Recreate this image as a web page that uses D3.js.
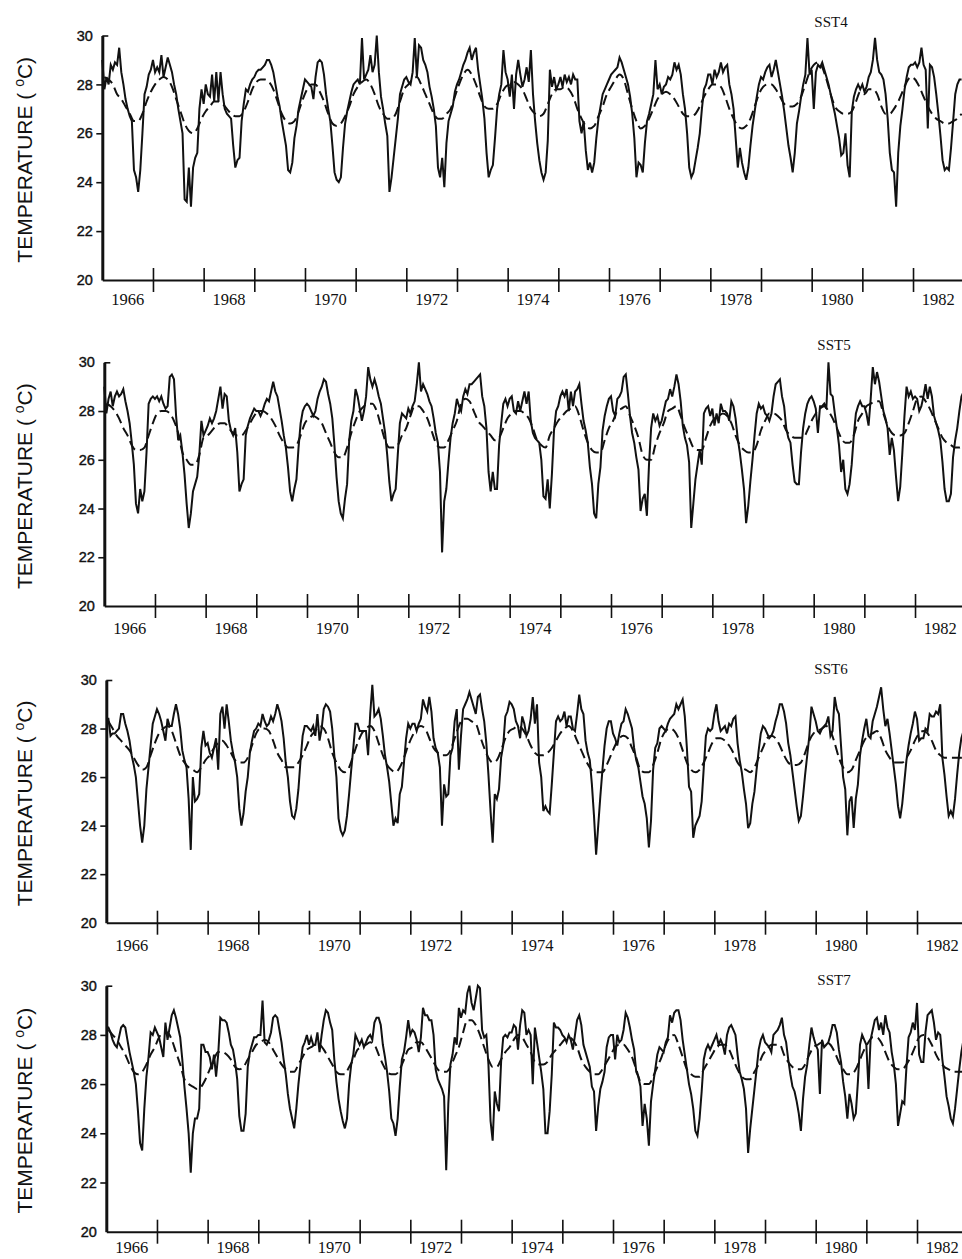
<!DOCTYPE html>
<html>
<head>
<meta charset="utf-8">
<script src="https://cdn.jsdelivr.net/npm/d3@7"></script>
<style>
body { margin: 0; background: #fff; }
svg { display: block; }
</style>
</head>
<body>
<script>
var years = [1966, 1967, 1968, 1969, 1970, 1971, 1972, 1973, 1974, 1975, 1976, 1977, 1978, 1979, 1980, 1981, 1982];
var yearLabels = [1966, 1968, 1970, 1972, 1974, 1976, 1978, 1980, 1982];
var yTicks = [20, 22, 24, 26, 28, 30];

// semi-monthly observed SST, one row per year
var sst4 = [
  [29.0,27.8,28.3,28.0,28.8,28.6,28.9,28.8,29.5,28.5,28.0,27.4,27.0,26.7,26.5,24.5,24.2,23.6,24.5,26.0,27.6,27.9,28.4,28.6],
  [29.0,28.5,28.7,28.5,29.2,28.3,28.7,29.1,28.8,28.5,28.0,27.6,27.0,26.5,26.0,23.3,23.2,24.6,23.0,24.6,25.0,25.2,27.0,27.8],
  [27.2,28.0,27.6,27.5,28.4,27.3,28.5,27.3,28.5,27.6,27.0,26.8,26.7,26.6,25.5,24.6,24.9,25.0,26.5,27.2,27.8,27.7,28.0,28.2],
  [28.3,28.5,28.6,28.6,28.7,28.8,29.0,29.0,28.8,28.5,28.0,27.5,27.1,26.5,26.0,25.5,24.5,24.4,24.8,25.8,26.3,27.0,27.4,27.8],
  [28.2,28.1,28.0,27.9,27.4,28.3,28.9,29.0,28.9,28.4,27.6,27.0,26.5,25.5,24.4,24.1,24.0,24.2,25.4,26.4,26.9,27.3,27.7,28.0],
  [28.1,28.2,28.0,29.9,28.2,28.4,28.6,29.2,28.5,28.8,30.0,28.5,27.5,27.0,26.4,25.9,23.6,24.2,25.0,25.8,26.6,27.6,27.9,28.2],
  [28.3,28.1,28.0,28.5,29.9,28.3,29.6,29.5,29.0,28.8,28.5,27.9,27.5,27.0,26.3,24.6,24.2,25.0,23.8,25.6,26.5,26.8,27.1,27.7],
  [28.0,28.2,28.5,28.8,29.0,29.3,29.5,29.0,29.3,29.5,28.6,28.0,27.4,26.6,25.2,24.2,24.5,24.7,25.8,27.0,27.6,28.0,29.4,28.5],
  [28.2,27.5,28.4,27.0,28.4,29.0,28.4,27.9,28.2,28.7,28.1,29.4,27.6,26.5,25.6,24.9,24.4,24.1,24.4,25.7,28.6,27.9,28.3,27.8],
  [28.0,28.3,27.9,28.4,28.1,28.3,28.0,28.4,28.2,28.2,26.5,26.0,26.5,25.3,24.5,24.8,24.4,24.8,25.8,26.6,27.1,27.6,27.8,28.0],
  [28.2,28.4,28.5,28.6,28.7,29.1,28.9,28.6,28.3,28.0,27.5,26.8,25.8,24.2,24.8,24.7,24.4,25.6,26.5,26.8,27.2,27.6,29.0,27.8],
  [28.0,27.6,27.9,28.0,28.3,28.2,28.4,28.9,28.6,28.8,28.4,27.6,27.0,26.0,24.6,24.2,24.4,24.9,25.4,26.0,27.0,27.8,28.0,28.4],
  [28.4,28.0,28.6,28.3,28.5,28.9,28.5,28.7,28.8,28.0,27.6,27.0,25.8,24.6,25.4,24.8,24.4,24.1,24.6,25.5,26.3,26.9,27.5,28.0],
  [28.3,28.2,28.5,28.7,28.8,28.3,28.6,29.0,28.5,28.0,27.5,26.9,26.2,25.5,25.0,24.4,25.2,26.4,26.9,27.5,28.0,28.4,29.9,28.4],
  [28.6,27.0,28.5,28.8,28.7,28.9,28.6,28.3,28.0,27.6,27.2,26.8,26.3,25.8,25.1,25.2,26.0,24.7,24.2,26.9,27.5,27.8,28.0,27.8],
  [28.0,27.7,27.9,28.3,28.5,29.0,29.9,29.0,28.5,28.4,28.2,27.6,26.6,25.2,24.5,24.4,23.0,25.2,26.3,27.0,27.8,28.3,28.7,28.8],
  [28.8,28.9,28.7,28.9,29.5,28.8,28.6,26.2,28.8,28.7,28.3,27.6,26.8,25.9,24.9,24.5,24.6,24.5,25.4,26.5,27.6,28.0,28.2,28.2]
];

var sst5 = [
  [29.0,27.9,28.5,28.8,28.2,28.6,28.8,28.6,28.7,28.9,28.4,28.0,27.5,26.7,25.8,24.2,23.8,24.8,24.3,24.7,26.3,28.3,28.5,28.6],
  [28.5,28.6,28.4,28.6,28.3,28.1,28.2,29.4,29.5,29.3,27.8,26.8,27.0,26.3,25.4,24.2,23.2,23.8,24.7,25.0,25.3,26.2,27.6,27.0],
  [27.2,27.4,27.7,27.5,27.7,28.0,28.5,29.0,28.1,28.7,28.6,27.6,27.2,27.0,27.3,26.3,24.7,25.0,25.2,27.0,27.4,27.7,27.9,28.1],
  [28.0,28.0,27.8,28.0,28.3,28.5,28.4,28.8,29.2,28.8,28.6,28.1,27.6,27.0,26.5,25.7,24.7,24.3,24.8,25.2,26.5,27.5,28.0,28.2],
  [28.3,28.2,28.0,27.8,28.0,28.5,28.8,29.0,29.3,29.2,28.7,28.3,27.7,26.6,25.3,24.3,23.8,23.6,24.4,25.0,26.8,27.6,28.0,28.9],
  [28.6,28.1,27.6,28.0,28.6,29.8,29.3,29.0,29.3,29.0,28.6,28.3,27.7,27.1,26.2,25.1,24.3,24.6,24.8,26.2,27.5,27.9,27.8,27.7],
  [28.1,27.9,28.2,28.4,29.1,30.0,28.8,29.1,28.9,28.7,28.4,28.2,27.7,27.1,26.7,25.5,22.2,24.3,24.8,25.9,26.9,27.5,27.9,28.5],
  [28.2,28.0,28.6,28.9,28.7,29.1,29.1,29.2,29.3,29.4,29.5,28.6,28.2,27.3,25.5,24.7,25.5,24.8,24.8,26.6,27.5,28.3,28.5,28.2],
  [28.5,28.6,28.0,27.9,28.4,28.0,28.4,28.8,28.3,28.8,27.6,27.1,26.9,26.8,26.7,26.0,24.5,24.4,25.2,24.0,25.4,27.2,28.0,28.2],
  [28.6,28.8,28.6,28.9,28.0,28.8,28.2,28.8,28.9,29.1,28.3,27.6,27.2,26.7,25.7,25.0,23.8,23.6,25.0,25.7,27.2,27.8,28.2,28.5],
  [28.6,28.0,27.8,28.5,28.6,28.8,29.4,29.5,28.7,27.8,27.1,26.7,26.1,25.6,23.9,24.4,24.6,23.7,25.8,27.3,27.9,27.6,27.8,27.4],
  [27.6,28.0,28.4,28.5,28.9,28.6,29.0,29.5,29.1,28.4,27.4,26.9,26.6,25.9,23.2,24.2,25.2,25.8,26.4,25.8,27.9,28.1,28.2,27.8],
  [28.1,27.4,27.9,27.5,28.3,28.0,28.0,27.9,27.6,28.4,28.2,27.7,26.9,26.3,25.6,24.8,23.4,24.1,25.1,26.0,27.0,27.9,28.3,28.1],
  [28.2,27.9,27.8,27.6,27.9,28.6,29.1,29.2,29.3,28.6,28.2,27.3,26.9,26.7,25.8,25.1,25.0,25.0,26.3,27.3,27.9,28.3,28.5,28.6],
  [28.4,28.1,27.1,28.2,28.2,28.3,28.1,30.0,28.7,28.6,27.9,27.3,26.6,25.5,26.0,24.8,24.6,25.0,25.8,27.0,27.9,28.2,28.4,28.2],
  [28.2,27.9,27.4,28.5,29.8,29.1,29.6,29.2,28.6,28.0,27.7,27.3,26.2,26.9,26.4,25.3,24.3,24.9,26.3,27.8,29.0,28.6,28.8,28.5],
  [28.6,28.5,28.0,28.2,28.6,29.1,28.5,29.0,28.6,27.8,27.5,27.2,26.8,25.9,24.8,24.3,24.3,24.6,26.1,26.8,27.3,28.0,28.6,28.8]
];

var sst6 = [
  [28.4,28.4,27.7,27.8,27.8,27.9,28.0,28.6,28.6,28.2,27.9,27.5,26.9,26.5,26.0,25.0,24.0,23.3,24.0,25.5,26.4,27.3,28.2,28.5],
  [28.8,28.6,28.3,27.9,27.5,28.4,28.1,28.1,28.6,29.0,28.6,28.0,27.1,26.7,26.4,25.1,23.0,26.0,25.0,25.1,25.3,27.2,27.9,27.3],
  [27.4,27.0,26.8,27.2,27.6,26.3,28.6,28.9,28.0,29.0,28.3,27.5,27.0,26.6,26.0,24.7,24.0,24.5,25.4,26.0,27.0,27.5,27.9,28.0],
  [28.2,28.1,28.6,28.3,28.1,28.2,28.5,28.3,28.6,29.0,28.7,28.3,27.6,26.6,26.0,25.0,24.4,24.3,24.7,25.5,26.7,27.7,28.1,28.1],
  [28.0,27.9,28.1,27.7,28.6,27.5,28.0,28.8,29.0,28.9,28.7,28.0,26.9,26.0,24.3,23.8,23.6,23.8,24.4,25.3,26.3,27.2,28.2,28.2],
  [27.9,27.9,27.9,27.9,26.9,28.6,29.8,28.5,28.6,28.8,28.4,27.7,26.9,26.4,25.8,24.9,24.0,24.3,24.1,25.3,25.6,26.6,27.6,28.2],
  [28.0,28.2,28.2,27.9,28.2,28.4,29.2,28.9,28.7,29.3,28.7,27.6,27.2,27.0,26.4,24.0,25.7,25.2,25.3,26.9,27.2,28.3,28.8,26.3],
  [27.7,28.8,29.0,29.2,29.5,29.2,28.9,28.6,29.3,29.4,28.8,28.3,27.4,26.1,24.6,23.3,25.3,25.1,25.5,26.8,27.3,28.5,28.7,29.1],
  [29.0,28.8,28.3,28.1,27.6,28.5,28.2,27.7,27.9,28.4,29.3,28.2,29.0,26.6,26.0,24.6,24.8,24.6,24.5,25.7,27.0,28.3,28.5,28.3],
  [28.4,28.7,28.1,28.5,28.5,28.0,27.9,28.6,29.4,28.8,28.6,27.5,27.0,26.7,25.7,24.4,22.8,24.0,25.2,26.3,27.3,28.0,28.3,28.3],
  [27.8,27.6,27.3,27.8,28.2,28.3,28.8,28.6,28.3,28.0,27.2,26.7,26.4,25.8,25.2,24.9,24.3,23.1,24.2,26.3,27.2,27.4,28.0,28.1],
  [28.0,27.9,28.2,28.4,28.5,28.6,29.0,28.8,29.0,29.2,28.5,27.2,25.6,25.4,23.5,24.0,24.2,24.4,25.0,26.4,27.7,28.0,27.9,28.0],
  [28.6,29.0,28.3,27.9,28.0,28.1,27.8,28.2,28.1,28.4,28.5,27.4,26.7,26.2,25.5,24.9,23.9,24.1,24.9,25.4,26.3,27.1,27.8,28.1],
  [28.0,27.8,27.6,27.7,27.9,28.3,28.6,29.0,29.0,28.7,28.2,27.4,26.9,26.2,25.5,24.8,24.2,24.4,25.2,26.1,26.9,27.7,28.9,28.6],
  [28.3,27.9,27.8,28.0,28.1,28.2,28.5,27.7,27.9,29.3,28.8,28.6,27.3,26.0,25.5,23.6,25.0,25.2,23.9,25.1,25.7,26.9,27.5,28.0],
  [28.4,27.7,27.6,28.3,28.6,28.9,29.3,29.7,28.8,28.1,28.4,27.8,27.1,26.4,25.7,24.8,24.3,24.9,25.8,26.7,27.3,27.8,28.2,28.7],
  [28.4,27.5,27.6,27.6,28.0,27.9,28.6,28.5,28.5,28.7,28.6,29.0,26.8,26.1,25.2,24.4,24.6,24.4,25.1,26.1,27.0,27.6,27.9,28.1]
];

var sst7 = [
  [28.3,28.3,28.1,27.8,27.6,27.5,27.9,28.3,28.4,28.3,27.8,27.3,26.9,26.5,26.0,24.9,23.6,23.3,25.0,26.3,27.1,28.1,28.0,28.3],
  [28.1,27.9,27.5,27.1,28.5,27.8,28.3,28.8,29.0,28.7,28.3,27.9,27.0,25.9,25.0,24.0,22.4,24.0,24.6,24.6,25.0,27.6,27.6,27.3],
  [27.3,27.1,26.6,27.2,26.3,27.2,28.7,28.6,28.6,28.5,28.1,27.6,27.4,26.9,26.2,24.7,24.1,24.1,24.8,26.7,27.3,27.6,27.9,27.9],
  [28.0,28.0,29.4,27.7,27.6,27.8,28.1,28.7,28.8,28.7,28.2,27.7,27.0,26.4,25.6,25.0,24.6,24.2,25.0,26.0,26.8,27.5,27.7,28.0],
  [27.6,27.9,27.6,27.6,28.1,27.3,28.0,28.6,29.0,28.9,28.5,28.2,27.0,26.1,25.4,24.9,24.5,24.2,24.6,26.0,26.8,27.2,28.0,27.8],
  [27.6,27.8,27.5,27.7,27.9,28.0,27.8,28.5,28.7,28.7,28.4,27.6,27.1,26.5,25.7,24.6,24.4,23.9,24.6,25.9,27.0,27.3,27.9,28.6],
  [28.0,28.2,28.1,27.8,27.3,27.9,29.1,28.8,28.8,28.6,28.6,28.0,26.6,26.2,26.0,25.8,25.5,22.5,25.2,26.8,27.2,27.9,27.6,29.1],
  [28.7,29.0,28.9,29.7,30.0,29.3,29.0,29.5,30.0,29.9,28.2,27.9,28.0,26.8,24.5,23.7,25.7,25.2,24.9,26.9,27.9,28.0,27.9,28.1],
  [28.1,28.4,28.3,27.4,28.4,29.0,28.9,28.0,28.2,28.0,26.0,28.3,27.7,27.1,26.5,25.8,24.0,24.0,24.9,26.4,28.5,28.3,28.3,28.2],
  [28.0,27.9,27.7,28.0,27.8,27.4,28.0,28.6,28.8,28.4,27.6,27.3,27.0,26.7,25.9,25.7,24.1,25.1,25.8,26.1,26.5,27.5,27.9,28.0],
  [28.0,27.0,28.0,27.7,27.8,28.2,28.9,28.7,28.3,27.8,27.4,26.5,26.3,25.9,24.3,25.2,24.6,23.5,25.3,26.0,26.6,27.2,27.5,27.4],
  [27.3,27.7,27.9,28.8,28.5,28.9,29.0,29.0,28.6,27.8,27.2,26.6,26.0,25.6,25.0,24.1,23.9,24.6,25.7,27.0,27.4,27.6,27.4,27.6],
  [27.8,28.0,27.6,27.8,27.6,27.2,28.0,28.3,28.4,28.2,28.0,27.2,26.5,26.2,25.8,25.0,23.2,24.2,25.0,25.8,26.6,27.4,27.8,28.0],
  [27.7,27.6,27.5,27.3,28.0,28.1,28.2,28.4,28.7,28.0,27.7,27.0,26.4,25.9,25.7,25.3,24.8,24.1,25.4,26.3,26.8,27.6,28.3,27.9],
  [27.6,27.4,25.6,27.8,27.5,27.6,27.7,28.0,28.4,28.4,28.1,27.4,26.9,26.1,25.5,24.6,25.6,25.2,24.6,24.8,26.1,27.6,28.0,27.8],
  [27.6,25.8,27.8,28.2,28.6,28.7,28.2,28.5,28.0,28.8,28.3,28.1,27.3,26.8,26.0,24.3,24.8,25.3,25.2,26.7,27.9,28.1,28.5,28.2],
  [29.3,27.2,26.9,26.9,28.1,28.8,28.9,29.0,28.5,27.8,28.1,28.0,27.0,26.3,25.5,25.1,24.6,24.4,25.0,25.8,26.6,27.3,27.8,28.0]
];

// monthly reference curves (dashed)
var sst4Clim = [
  [28.3,28.2,28.0,27.6,27.4,27.1,26.8,26.5,26.5,26.8,27.3,27.7],
  [28.0,28.2,28.3,28.2,27.9,27.4,26.9,26.4,26.1,26.0,26.2,26.6],
  [26.9,27.1,27.3,27.3,27.2,27.0,26.8,26.7,26.7,26.9,27.3,27.8],
  [28.1,28.2,28.2,28.1,27.8,27.3,26.8,26.5,26.4,26.5,26.9,27.4],
  [27.8,28.0,28.0,27.7,27.3,26.8,26.4,26.3,26.4,26.7,27.1,27.6],
  [27.9,28.1,28.2,28.0,27.6,27.1,26.8,26.6,26.6,26.8,27.3,27.8],
  [28.0,28.2,28.3,28.0,27.6,27.2,26.8,26.6,26.6,26.8,27.0,27.5],
  [28.0,28.4,28.6,28.4,28.0,27.5,27.1,27.0,27.0,27.2,27.6,27.9],
  [28.0,28.1,28.0,27.8,27.4,27.0,26.8,26.7,26.8,27.2,27.6,27.8],
  [27.8,27.9,27.8,27.5,27.0,26.6,26.3,26.2,26.3,26.7,27.1,27.6],
  [27.9,28.2,28.4,28.2,27.6,27.0,26.5,26.2,26.3,26.6,27.0,27.4],
  [27.6,27.7,27.6,27.4,27.1,26.8,26.7,26.7,26.8,27.1,27.5,27.8],
  [28.0,28.0,27.9,27.5,27.0,26.6,26.3,26.2,26.3,26.6,27.1,27.6],
  [27.9,28.0,28.0,27.8,27.5,27.2,27.1,27.1,27.2,27.5,28.0,28.5],
  [28.8,28.9,28.7,28.2,27.6,27.1,26.9,26.8,26.8,26.9,27.3,27.7],
  [27.6,27.8,27.8,27.6,27.1,26.8,26.8,27.0,27.3,27.7,28.1,28.3],
  [28.2,27.9,27.5,27.1,26.8,26.6,26.5,26.4,26.4,26.5,26.6,26.8]
];

var sst5Clim = [
  [28.3,28.2,28.0,27.7,27.3,27.0,26.6,26.4,26.4,26.5,27.0,27.5],
  [27.9,28.0,28.0,27.9,27.6,27.1,26.3,26.0,25.8,25.8,26.2,26.9],
  [27.0,27.2,27.4,27.5,27.5,27.3,27.1,27.0,27.0,27.2,27.5,27.8],
  [28.0,28.0,27.9,27.7,27.4,27.0,26.7,26.5,26.5,26.6,27.0,27.5],
  [27.7,27.8,27.7,27.5,27.1,26.7,26.3,26.1,26.1,26.5,27.1,27.6],
  [28.0,28.2,28.3,28.3,28.0,27.4,26.8,26.5,26.5,26.6,27.0,27.3],
  [27.8,28.2,28.2,28.0,27.7,27.2,26.7,26.5,26.5,26.8,27.2,27.6],
  [28.3,28.5,28.4,28.0,27.6,27.4,27.2,27.0,26.8,26.9,27.3,27.7],
  [27.9,28.0,28.0,27.9,27.7,27.3,26.8,26.6,26.5,27.0,27.3,27.6],
  [27.8,28.0,28.1,28.2,27.8,27.2,26.7,26.4,26.3,26.3,26.8,27.3],
  [27.6,28.0,28.1,28.2,27.8,27.4,26.9,26.2,26.0,26.0,26.6,27.1],
  [27.5,28.0,28.1,28.2,27.8,27.3,26.9,26.5,26.4,26.4,26.9,27.4],
  [27.7,27.8,27.9,27.8,27.5,27.0,26.6,26.4,26.3,26.3,26.6,27.2],
  [27.6,27.9,27.9,27.8,27.6,27.2,27.0,26.9,26.9,26.9,27.2,27.6],
  [27.9,28.1,28.2,28.0,27.7,27.3,26.9,26.7,26.7,27.0,27.6,27.9],
  [28.2,28.3,28.4,28.4,27.9,27.4,27.1,27.0,27.0,27.1,27.5,28.0],
  [28.5,28.6,28.4,28.1,27.7,27.3,26.9,26.7,26.6,26.5,26.5,26.6]
];

var sst6Clim = [
  [28.3,28.0,27.7,27.5,27.3,27.1,26.8,26.5,26.3,26.4,26.9,27.4],
  [27.8,28.0,28.1,27.9,27.4,26.9,26.6,26.4,26.3,26.2,26.4,26.7],
  [26.9,27.2,27.4,27.5,27.3,27.0,26.7,26.6,26.6,26.8,27.3,27.8],
  [28.0,28.0,27.9,27.5,27.0,26.7,26.4,26.4,26.4,26.6,26.9,27.3],
  [27.7,27.9,28.1,28.0,27.6,27.0,26.6,26.3,26.2,26.4,26.9,27.4],
  [27.8,28.0,28.1,27.9,27.4,26.9,26.5,26.3,26.2,26.4,26.8,27.3],
  [27.7,28.0,28.1,28.0,27.6,27.2,27.0,26.9,26.9,27.1,27.6,28.1],
  [28.4,28.4,28.3,28.2,27.7,27.2,26.8,26.6,26.7,27.1,27.6,27.9],
  [28.0,28.1,28.0,27.7,27.3,27.0,26.9,26.9,27.0,27.2,27.5,27.8],
  [28.0,28.1,27.9,27.5,27.1,26.7,26.4,26.2,26.2,26.2,26.5,26.9],
  [27.3,27.6,27.7,27.6,27.2,26.8,26.3,26.2,26.2,26.5,27.0,27.6],
  [27.9,28.0,27.9,27.6,27.1,26.6,26.3,26.2,26.3,26.6,27.0,27.4],
  [27.6,27.6,27.5,27.3,27.0,26.6,26.4,26.3,26.2,26.4,26.8,27.2],
  [27.6,27.7,27.6,27.3,26.9,26.6,26.5,26.5,26.6,27.0,27.5,27.8],
  [27.9,28.0,28.1,27.9,27.4,26.8,26.4,26.2,26.3,26.7,27.1,27.5],
  [27.7,27.8,27.9,27.6,27.1,26.8,26.6,26.6,26.6,26.8,27.1,27.5],
  [27.8,27.9,27.8,27.5,27.1,26.9,26.8,26.8,26.8,26.8,26.8,26.9]
];

var sst7Clim = [
  [28.2,28.0,27.8,27.5,27.2,26.8,26.5,26.4,26.5,26.8,27.2,27.5],
  [27.9,28.1,28.1,27.8,27.3,26.8,26.2,26.0,25.9,25.8,25.9,26.2],
  [26.6,27.0,27.3,27.3,27.2,27.0,26.7,26.6,26.7,27.0,27.3,27.6],
  [27.7,27.8,27.7,27.4,27.1,26.8,26.6,26.5,26.5,26.8,27.1,27.4],
  [27.5,27.6,27.6,27.4,27.1,26.8,26.5,26.4,26.4,26.7,27.0,27.4],
  [27.5,27.6,27.7,27.6,27.2,26.8,26.5,26.4,26.4,26.6,27.0,27.4],
  [27.5,27.7,27.7,27.5,27.2,26.9,26.6,26.5,26.5,26.7,27.1,27.5],
  [28.1,28.6,28.6,28.4,28.0,27.5,27.0,26.7,26.7,27.0,27.3,27.5],
  [27.8,28.0,27.9,27.6,27.3,26.9,26.8,26.8,26.9,27.2,27.4,27.6],
  [27.8,27.9,27.8,27.5,27.0,26.7,26.5,26.4,26.4,26.6,26.9,27.2],
  [27.5,27.6,27.6,27.4,27.1,26.6,26.1,26.0,26.0,26.3,26.7,27.1],
  [27.6,27.9,28.0,27.6,27.1,26.6,26.4,26.3,26.3,26.6,26.9,27.2],
  [27.5,27.6,27.6,27.4,27.0,26.6,26.3,26.2,26.2,26.5,26.8,27.2],
  [27.4,27.6,27.6,27.6,27.2,26.9,26.7,26.6,26.6,26.8,27.2,27.5],
  [27.6,27.7,27.7,27.6,27.3,26.9,26.6,26.4,26.4,26.6,27.0,27.4],
  [27.7,27.9,27.9,27.7,27.3,26.9,26.7,26.6,26.6,26.8,27.1,27.5],
  [27.9,28.0,27.9,27.6,27.2,26.9,26.7,26.6,26.5,26.5,26.5,26.6]
];

var panels = [
  {name: "SST4", obs: sst4, clim: sst4Clim, left: 102.3, top: 35.5, bottom: 280, titleX: 831, titleY: 27, labelDy: 25},
  {name: "SST5", obs: sst5, clim: sst5Clim, left: 104.3, top: 362.3, bottom: 606, titleX: 834, titleY: 350, labelDy: 28},
  {name: "SST6", obs: sst6, clim: sst6Clim, left: 106.3, top: 680, bottom: 922.7, titleX: 831, titleY: 674, labelDy: 28},
  {name: "SST7", obs: sst7, clim: sst7Clim, left: 106.3, top: 985.7, bottom: 1231.7, titleX: 834, titleY: 985, labelDy: 21}
];

var width = 962, height = 1259, yearWidth = 50.67;
var serif = "'Liberation Serif', 'Times New Roman', Times, serif";
var sans = "'Liberation Sans', Arial, Helvetica, sans-serif";

var svg = d3.select("body").append("svg")
    .attr("width", width)
    .attr("height", height);

function toPoints(rows, offset) {
    var out = [];
    rows.forEach(function(row, r) {
        row.forEach(function(v, k) {
            out.push({t: years[r] + (k + offset) / row.length, v: v});
        });
    });
    return out;
}

panels.forEach(function(p) {
    var x = d3.scaleLinear()
        .domain([years[0], years[years.length - 1] + 1])
        .range([p.left, p.left + yearWidth * years.length]);
    var y = d3.scaleLinear().domain([20, 30]).range([p.bottom, p.top]);

    var g = svg.append("g");

    var line = d3.line()
        .x(function(d) { return x(d.t); })
        .y(function(d) { return y(d.v); });

    g.append("path")
        .datum(toPoints(p.clim, 0.5))
        .attr("fill", "none")
        .attr("stroke", "#111")
        .attr("stroke-width", 2)
        .attr("stroke-dasharray", "10,5")
        .attr("d", line.curve(d3.curveMonotoneX));

    g.append("path")
        .datum(toPoints(p.obs, 0))
        .attr("fill", "none")
        .attr("stroke", "#111")
        .attr("stroke-width", 2)
        .attr("d", d3.line()
            .x(function(d) { return x(d.t); })
            .y(function(d) { return y(d.v); }));

    // x axis: ticks at year boundaries, crossing the line
    var xAxis = g.append("g")
        .attr("transform", "translate(0," + y(20) + ")")
        .call(d3.axisBottom(x)
            .tickValues(d3.range(1967, 1983))
            .tickSize(12)
            .tickSizeOuter(0)
            .tickFormat(""));
    xAxis.select(".domain").attr("stroke", "#111").attr("stroke-width", 2);
    xAxis.selectAll(".tick line").attr("y1", -12).attr("stroke", "#111").attr("stroke-width", 1.6);

    g.selectAll(".year")
        .data(yearLabels)
        .enter().append("text")
        .attr("x", function(d) { return x(d + 0.5); })
        .attr("y", y(20) + p.labelDy)
        .attr("text-anchor", "middle")
        .attr("font-family", serif)
        .attr("font-size", "16.5px")
        .attr("fill", "#111")
        .text(function(d) { return d; });

    // y axis
    var yAxis = g.append("g")
        .attr("transform", "translate(" + x(1966) + ",0)")
        .call(d3.axisLeft(y)
            .tickValues(yTicks)
            .tickSize(6)
            .tickSizeOuter(0)
            .tickPadding(3.5));
    yAxis.select(".domain").attr("stroke", "#111").attr("stroke-width", 3);
    yAxis.selectAll(".tick line")
        .attr("stroke", "#111")
        .attr("stroke-width", 1.6)
        .attr("x2", function(d) { return d === 30 ? 6 : (d === 20 ? 0 : -6); });
    yAxis.selectAll(".tick text")
        .attr("font-family", sans)
        .attr("font-size", "14.5px")
        .attr("fill", "#111")
        .attr("stroke", "#111")
        .attr("stroke-width", 0.4);

    var label = g.append("text")
        .attr("transform", "translate(32," + ((p.top + p.bottom) / 2 + 2) + ") rotate(-90)")
        .attr("text-anchor", "middle")
        .attr("font-family", sans)
        .attr("font-size", "21px")
        .attr("fill", "#111");
    label.append("tspan").text("TEMPERATURE (\u00a0");
    label.append("tspan").attr("font-size", "14px").attr("dy", -8).text("o");
    label.append("tspan").attr("dy", 8).text("C)");

    g.append("text")
        .attr("x", p.titleX)
        .attr("y", p.titleY)
        .attr("text-anchor", "middle")
        .attr("font-family", serif)
        .attr("font-size", "15px")
        .attr("fill", "#111")
        .text(p.name);
});
</script>
</body>
</html>
